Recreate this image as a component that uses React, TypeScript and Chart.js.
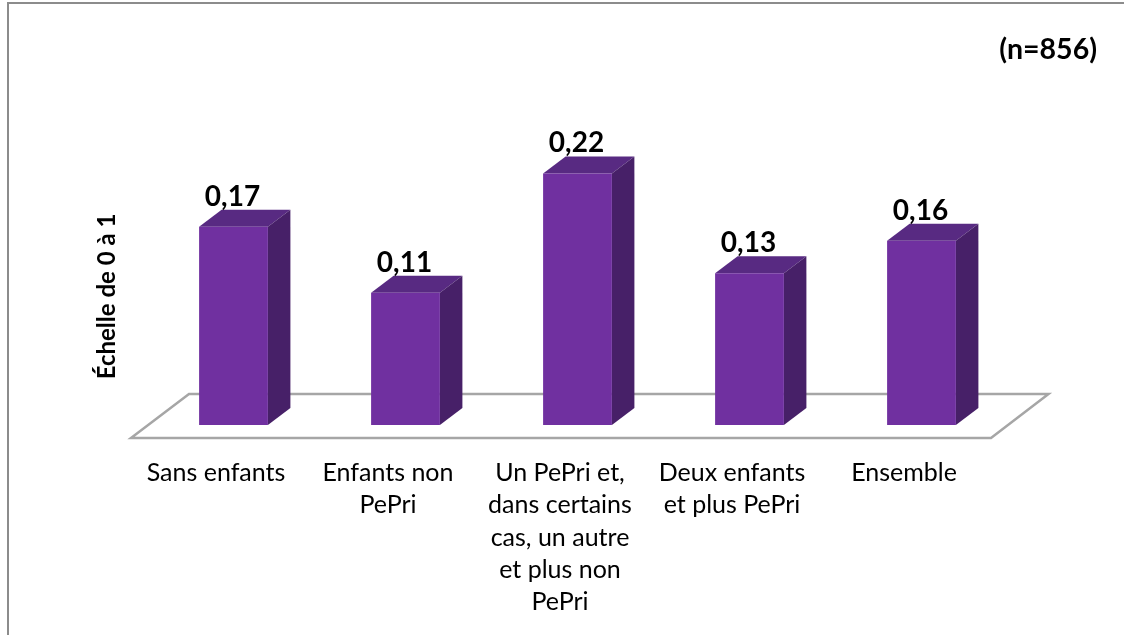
import React, { useEffect, useRef } from "react";
import { Chart, registerables } from "chart.js";

Chart.register(...registerables);

const categories = [
  "Sans enfants",
  ["Enfants non", "PePri"],
  ["Un PePri et,", "dans certains", "cas, un autre", "et plus non", "PePri"],
  ["Deux enfants", "et plus PePri"],
  "Ensemble",
];
const values = [0.171, 0.114, 0.217, 0.131, 0.159];
const sampleNote = "(n=856)";
const axisTitle = "Échelle de 0 à 1";

const FONT = "Lato";
const FRONT = "#7030a0";
const TOP = "#582a82";
const SIDE = "#472068";
const FLOOR = "#a6a6a6";
const DX = 22.5;
const DY = 17;

const depthPlugin = {
  id: "depth",
  beforeDatasetsDraw(chart: any) {
    const { ctx, scales } = chart;
    const base = scales.y.getPixelForValue(0);
    const l = scales.x.left;
    const r = scales.x.right;
    ctx.save();
    ctx.strokeStyle = FLOOR;
    ctx.lineWidth = 2.5;
    ctx.lineJoin = "miter";
    ctx.beginPath();
    ctx.moveTo(l - 16.5, base + 13);
    ctx.lineTo(r - 16.5, base + 13);
    ctx.lineTo(r + 41, base - 31);
    ctx.lineTo(l + 41.5, base - 31);
    ctx.closePath();
    ctx.stroke();
    const meta = chart.getDatasetMeta(0);
    meta.data.forEach((bar: any) => {
      const half = bar.width / 2;
      const x0 = bar.x - half;
      const x1 = bar.x + half;
      ctx.fillStyle = TOP;
      ctx.beginPath();
      ctx.moveTo(x0, bar.y);
      ctx.lineTo(x0 + DX, bar.y - DY);
      ctx.lineTo(x1 + DX, bar.y - DY);
      ctx.lineTo(x1, bar.y);
      ctx.closePath();
      ctx.fill();
      ctx.fillStyle = SIDE;
      ctx.beginPath();
      ctx.moveTo(x1, bar.y);
      ctx.lineTo(x1 + DX, bar.y - DY);
      ctx.lineTo(x1 + DX, base - DY);
      ctx.lineTo(x1, base);
      ctx.closePath();
      ctx.fill();
    });
    ctx.restore();
  },
  afterDatasetsDraw(chart: any) {
    const { ctx } = chart;
    const meta = chart.getDatasetMeta(0);
    ctx.save();
    ctx.font = `bold 28px ${FONT}`;
    ctx.fillStyle = "#000";
    ctx.textAlign = "center";
    ctx.textBaseline = "middle";
    meta.data.forEach((bar: any, i: number) => {
      ctx.fillText(values[i].toFixed(2).replace(".", ","), bar.x - 1, bar.y - 30);
    });
    ctx.translate(107.5, 296.5);
    ctx.rotate(-Math.PI / 2);
    ctx.font = `bold 24px ${FONT}`;
    ctx.fillText(axisTitle, 0, 0);
    ctx.restore();
  },
};

export default function App() {
  const ref = useRef<HTMLCanvasElement>(null);
  useEffect(() => {
    const chart = new Chart(ref.current as HTMLCanvasElement, {
      type: "bar",
      data: {
        labels: categories as any,
        datasets: [
          {
            data: values,
            backgroundColor: FRONT,
            barPercentage: 0.4,
            categoryPercentage: 1,
          },
        ],
      },
      options: {
        responsive: false,
        animation: false,
        layout: { padding: { top: 33, right: 27, left: 97, bottom: 0 } },
        plugins: {
          legend: { display: false },
          tooltip: { enabled: false },
          title: {
            display: true,
            text: sampleNote,
            align: "end",
            color: "#000",
            font: { family: FONT, size: 28.5, weight: "bold" },
            padding: { top: 0, bottom: 10 },
          },
        },
        scales: {
          x: {
            grid: { display: false },
            border: { display: false },
            ticks: {
              color: "#000",
              maxRotation: 0,
              autoSkip: false,
              padding: 24,
              labelOffset: -17.5,
              font: { family: FONT, size: 25, lineHeight: 1.29 },
            },
            afterFit(s: any) {
              s.height = 210;
            },
          },
          y: {
            min: 0,
            max: 0.3,
            grid: { display: false },
            border: { display: false },
            ticks: { display: false },
            afterFit(s: any) {
              s.width = 50.5;
            },
          },
          yRight: {
            position: "right",
            display: true,
            grid: { display: false },
            border: { display: false },
            ticks: { display: false },
            afterFit(s: any) {
              s.width = 89.5;
            },
          },
        },
      } as any,
      plugins: [depthPlugin],
    });
    return () => chart.destroy();
  }, []);
  return (
    <div style={{ position: "fixed", left: 0, top: 0, width: 1124, height: 635, background: "#fff", overflow: "hidden" }}>
      <div style={{ position: "absolute", left: 7, top: 2, width: 1117, height: 633, borderTop: "2px solid #8c8c8c", borderLeft: "2px solid #8c8c8c", boxSizing: "border-box" }} />
      <canvas ref={ref} width={1124} height={635} style={{ position: "absolute", left: 0, top: 0, display: "block" }} />
    </div>
  );
}
